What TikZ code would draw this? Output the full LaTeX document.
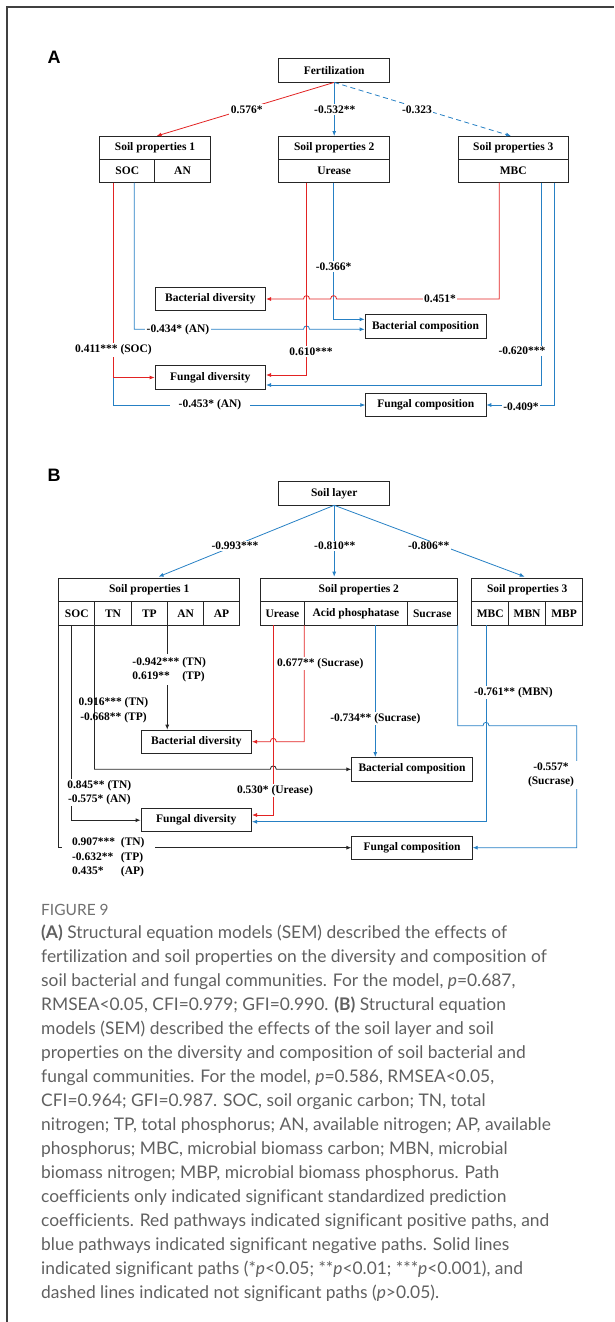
\documentclass[tikz,border=0pt]{standalone}
\usepackage{fontspec}
\setmainfont{Liberation Serif}
\newfontfamily\capfont[Ligatures=NoCommon]{Lato}
\newfontfamily\panelfont{Liberation Sans}
\usetikzlibrary{arrows.meta}
\definecolor{posred}{RGB}{226,35,35}
\definecolor{negblue}{RGB}{38,128,196}
\definecolor{capgray}{RGB}{96,96,96}

% line hops (rightward / leftward)
\newcommand{\hopR}[2]{-- (#1-3,#2) .. controls (#1-3,#2-4.5) and (#1+3,#2-4.5) .. (#1+3,#2)}
\newcommand{\hopL}[2]{-- (#1+3,#2) .. controls (#1+3,#2-4.5) and (#1-3,#2-4.5) .. (#1-3,#2)}

\tikzset{
  box/.style={draw=black!85, line width=0.7pt, inner sep=0pt, font=\bfseries\fontsize{11.5}{13}\selectfont},
  coef/.style={font=\bfseries\fontsize{11.5}{14.4}\selectfont, inner sep=1.5pt},
  coefbg/.style={coef, fill=white},
  pospath/.style={draw=posred, line width=0.8pt, -{Latex[length=5pt,width=4pt]}},
  negpath/.style={draw=negblue, line width=0.8pt, -{Latex[length=5pt,width=4pt]}},
  nilpath/.style={draw=black!85, line width=0.8pt, -{Latex[length=5pt,width=4pt]}},
  tag/.style={font=\panelfont\bfseries\fontsize{18}{18}\selectfont, inner sep=0pt}
}

\begin{document}
\begin{tikzpicture}[x=1pt, y=-1pt]
  \useasboundingbox (0,0) rectangle (614,1322);
  \draw[line width=1.4pt, black!75] (7,1322) -- (7,7) -- (614,7);

  %% panel A
  \node[tag] (tagA) at (54,57) {A};
  \node[box, minimum width=110.8, minimum height=23.7] (fert) at (334.2,70.2) {Fertilization};

  \node[box, minimum width=110.5, minimum height=23.3] (spA1) at (155.05,147.5) {Soil properties 1};
  \node[box, minimum width=54.9, minimum height=23.4] (socA) at (127.25,171) {SOC};
  \node[box, minimum width=55.6, minimum height=23.4] (anA) at (182.5,171) {AN};
  \node[box, minimum width=110.8, minimum height=23.3] (spA2) at (334.2,147.5) {Soil properties 2};
  \node[box, minimum width=110.8, minimum height=23.4] (ureA) at (334.2,171) {Urease};
  \node[box, minimum width=110.5, minimum height=23.3] (spA3) at (513.25,147.5) {Soil properties 3};
  \node[box, minimum width=110.5, minimum height=23.4] (mbcA) at (513.25,171) {MBC};

  \node[box, minimum width=110.7, minimum height=23.4] (bdA) at (210.3,299) {Bacterial diversity};
  \node[box, minimum width=121, minimum height=24] (bcA) at (425.5,326.3) {Bacterial composition};
  \node[box, minimum width=110.7, minimum height=23.6] (fdA) at (210.3,377.5) {Fungal diversity};
  \node[box, minimum width=120.3, minimum height=23.4] (fcA) at (425.8,405) {Fungal composition};

  \coordinate (inA1) at (156.6,136);
  \coordinate (inA2) at (334.2,136);
  \coordinate (inA3) at (511,136);
  \draw[pospath] (fert.south) -- (inA1);
  \draw[negpath] (fert.south) -- (inA2);
  \draw[negpath, dash pattern=on 5pt off 3.5pt] (fert.south) -- (inA3);

  \coordinate (socR) at (113.5,182.7);
  \coordinate (socN) at (134.3,182.7);
  \coordinate (ureR) at (306.5,182.7);
  \coordinate (ureN) at (333.6,182.7);
  \coordinate (mbcR) at (499.3,182.7);
  \coordinate (mbcN) at (541.5,182.7);
  \coordinate (mbcM) at (554.3,182.7);

  \draw[pospath] (socR) -- (socR |- fdA.west) -- (fdA.west);
  \draw[negpath] (socR |- fdA.west) -- (socR |- fcA.west) -- (fcA.west);
  \draw[negpath] (socN) -- (socN |- 0,329.3) \hopR{306.5}{329.3} -- (bcA.west |- 0,329.3);
  \draw[pospath] (ureR) -- (ureR |- 0,375) -- (fdA.east |- 0,375);
  \draw[negpath] (ureN) -- (ureN |- 0,319.3) -- (bcA.west |- 0,319.3);
  \draw[pospath] (mbcR) -- (mbcR |- bdA.east) \hopL{333.6}{299} \hopL{306.5}{299} -- (bdA.east);
  \draw[negpath] (mbcN) -- (mbcN |- 0,385) -- (fdA.east |- 0,385);
  \draw[negpath] (mbcM) -- (mbcM |- fcA.east) -- (fcA.east);

  \node[coefbg] (c576) at (246.7,109.3) {0.576*};
  \node[coefbg] (c532) at (334.8,109.3) {-0.532**};
  \node[coefbg] (c323) at (417,109.3) {-0.323};
  \node[coefbg] (c411) at (113.5,350) {0.411*** (SOC)};
  \node[coefbg, inner xsep=9pt] (c453) at (210,405) {-0.453* (AN)};
  \node[coefbg] (c434) at (178,329.3) {-0.434* (AN)};
  \node[coefbg] (c610) at (311,351.7) {0.610***};
  \node[coefbg] (c366) at (333.6,266.7) {-0.366*};
  \node[coefbg] (c451) at (440,298.7) {0.451*};
  \node[coefbg] (c620) at (522,351) {-0.620***};
  \node[coefbg] (c409) at (521,406.5) {-0.409*};

  %% panel B
  \node[tag] (tagB) at (54,475) {B};
  \node[box, minimum width=110.8, minimum height=23.3] (layer) at (334.2,493.3) {Soil layer};

  \node[box, minimum width=180.9, minimum height=23.4] (spB1) at (149.15,590) {Soil properties 1};
  \node[box, minimum width=36.1, minimum height=23.3] (socB) at (76.75,613.35) {SOC};
  \node[box, minimum width=36.4, minimum height=23.3] (tnB) at (113,613.35) {TN};
  \node[box, minimum width=36.4, minimum height=23.3] (tpB) at (149.4,613.35) {TP};
  \node[box, minimum width=36, minimum height=23.3] (anB) at (185.6,613.35) {AN};
  \node[box, minimum width=36, minimum height=23.3] (apB) at (221.6,613.35) {AP};
  \node[box, minimum width=196.9, minimum height=23.4] (spB2) at (358.85,590) {Soil properties 2};
  \node[box, minimum width=44.2, minimum height=23.3] (ureB) at (282.5,613.35) {Urease};
  \node[box, minimum width=102.6, minimum height=23.3] (acidB) at (355.9,613.35) {Acid phosphatase};
  \node[box, minimum width=50.1, minimum height=23.3] (sucB) at (432.25,613.35) {Sucrase};
  \node[box, minimum width=110.8, minimum height=23.4] (spB3) at (527.2,590) {Soil properties 3};
  \node[box, minimum width=36.9, minimum height=23.3] (mbcB) at (490.25,613.35) {MBC};
  \node[box, minimum width=36.8, minimum height=23.3] (mbnB) at (527.1,613.35) {MBN};
  \node[box, minimum width=37.1, minimum height=23.3] (mbpB) at (564.05,613.35) {MBP};

  \node[box, minimum width=110.7, minimum height=23.3] (bdB) at (196.3,741.7) {Bacterial diversity};
  \node[box, minimum width=120.6, minimum height=23.7] (bcB) at (412,769.2) {Bacterial composition};
  \node[box, minimum width=110.7, minimum height=23] (fdB) at (196.3,820.2) {Fungal diversity};
  \node[box, minimum width=120.6, minimum height=23.3] (fcB) at (412,847.7) {Fungal composition};

  \coordinate (inB1) at (158.6,576.7);
  \coordinate (inB2) at (334.2,576.7);
  \coordinate (inB3) at (524.7,576.7);
  \draw[negpath] (layer.south) -- (inB1);
  \draw[negpath] (layer.south) -- (inB2);
  \draw[negpath] (layer.south) -- (inB3);

  \coordinate (socK) at (71.7,625);
  \coordinate (ureK) at (273.3,625);
  \coordinate (acidK) at (375.3,625);
  \coordinate (mbcK) at (486,625);
  \coordinate (sucTurn) at (576.7,725.7);

  \draw[nilpath] (anB.south west) -- (anB.south west |- bdB.north);
  \draw[nilpath] (tnB.south west) -- (tnB.south west |- 0,769.3) \hopR{273.3}{769.3} -- (bcB.west |- 0,769.3);
  \draw[nilpath] (socK) -- (socK |- fdB.west) -- (fdB.west);
  \draw[nilpath] (socB.south west) -- (socB.south west |- fcB.west) -- (fcB.west);
  \draw[pospath] (ureK) -- (ureK |- 0,815) -- (fdB.east |- 0,815);
  \draw[pospath] (acidB.south west) -- (acidB.south west |- bdB.east) \hopL{273.3}{741.7} -- (bdB.east);
  \draw[negpath] (acidK) -- (acidK |- bcB.north);
  \draw[negpath] (sucB.south east) -- (sucB.south east |- sucTurn) \hopR{486}{725.7} -- (sucTurn) -- (sucTurn |- fcB.east) -- (fcB.east);
  \draw[negpath] (mbcK) -- (mbcK |- 0,821.7) -- (fdB.east |- 0,821.7);

  \node[coefbg] (c993) at (235,546) {-0.993***};
  \node[coefbg] (c810) at (334.8,546) {-0.810**};
  \node[coefbg] (c806) at (428.7,546) {-0.806**};
  \node[coefbg] (c942) at (169.2,669.5) {\begin{tabular}{@{}l@{\ }l@{}}-0.942*** & (TN)\\0.619** & (TP)\end{tabular}};
  \node[coef, align=center] (c916) at (113.5,710.3) {0.916*** (TN)\\-0.668** (TP)};
  \node[coefbg, align=center] (c845) at (99.3,792.5) {0.845** (TN)\\-0.575* (AN)};
  \node[coefbg, inner xsep=10pt] (c907) at (108.3,857.2) {\begin{tabular}{@{}l@{\ \ }l@{}}0.907*** & (TN)\\-0.632** & (TP)\\0.435* & (AP)\end{tabular}};
  \node[coefbg] (c530) at (275,790.7) {0.530* (Urease)};
  \node[coefbg] (c677) at (320.3,663.3) {0.677** (Sucrase)};
  \node[coefbg] (c734) at (375.3,718.3) {-0.734** (Sucrase)};
  \node[coefbg, align=center, inner xsep=4.5pt] (c557) at (551,775) {-0.557*\\(Sucrase)};
  \node[coefbg] (c761) at (513.3,692.7) {-0.761** (MBN)};

  %% caption
  \node[anchor=west, text=capgray!90, font=\capfont\fontsize{15.5}{15.5}\selectfont, inner sep=0pt] (fig) at (41,910) {FIGURE 9};
  \node[anchor=north west, align=left, text=capgray, font=\capfont\fontsize{17.4}{24}\selectfont, inner sep=0pt] (caption) at (41,924.5) {%
\textbf{(A)} Structural equation models (SEM) described the effects of\\
fertilization and soil properties on the diversity and composition of\\
soil bacterial and fungal communities. For the model, \textit{p}=0.687,\\
RMSEA<0.05, CFI=0.979; GFI=0.990. \textbf{(B)} Structural equation\\
models (SEM) described the effects of the soil layer and soil\\
properties on the diversity and composition of soil bacterial and\\
fungal communities. For the model, \textit{p}=0.586, RMSEA<0.05,\\
CFI=0.964; GFI=0.987. SOC, soil organic carbon; TN, total\\
nitrogen; TP, total phosphorus; AN, available nitrogen; AP, available\\
phosphorus; MBC, microbial biomass carbon; MBN, microbial\\
biomass nitrogen; MBP, microbial biomass phosphorus. Path\\
coefficients only indicated significant standardized prediction\\
coefficients. Red pathways indicated significant positive paths, and\\
blue pathways indicated significant negative paths. Solid lines\\
indicated significant paths (*\textit{p}<0.05; **\textit{p}<0.01; ***\textit{p}<0.001), and\\
dashed lines indicated not significant paths (\textit{p}>0.05).};
\end{tikzpicture}
\end{document}
